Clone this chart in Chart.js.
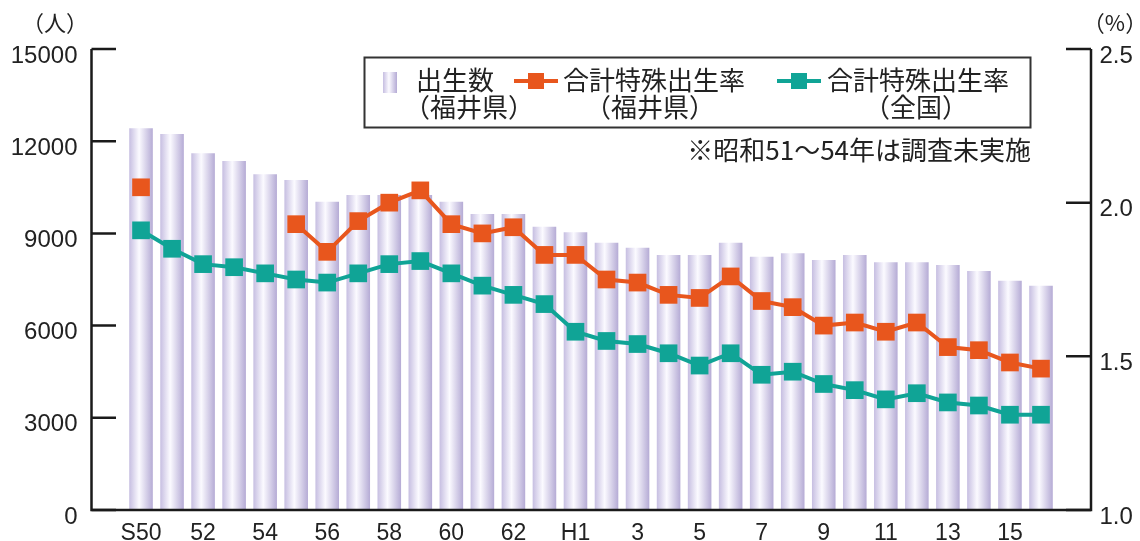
<!DOCTYPE html>
<html><head><meta charset="utf-8">
<script src="https://cdn.jsdelivr.net/npm/chart.js@4"></script>
<style>html,body{margin:0;padding:0;background:#fff;}</style>
</head><body>
<canvas id="c" width="1140" height="541" style="display:block;width:1140px;height:541px"></canvas>
<script>
const categories = ['S50','S51','S52','S53','S54','S55','S56','S57','S58','S59','S60','S61','S62','S63',
  'H1','H2','H3','H4','H5','H6','H7','H8','H9','H10','H11','H12','H13','H14','H15','H16'];
const tickLabels = ['S50','','52','','54','','56','','58','','60','','62','','H1','','3','','5','','7','','9','','11','','13','','15',''];
const births = [12420,12235,11607,11357,10923,10738,10032,10250,10250,10250,10030,9630,9630,9220,9035,
  8698,8536,8298,8298,8698,8243,8352,8135,8298,8059,8059,7972,7777,7462,7299];
const fukuiTFR = [2.05,null,null,null,null,1.93,1.84,1.94,2.00,2.04,1.93,1.90,1.92,1.83,1.83,
  1.75,1.74,1.70,1.69,1.76,1.68,1.66,1.60,1.61,1.58,1.61,1.53,1.52,1.48,1.46];
const nationalTFR = [1.91,1.85,1.80,1.79,1.77,1.75,1.74,1.77,1.80,1.81,1.77,1.73,1.70,1.67,1.58,
  1.55,1.54,1.51,1.47,1.51,1.44,1.45,1.41,1.39,1.36,1.38,1.35,1.34,1.31,1.31];
const leftTicks = [0,3000,6000,9000,12000,15000];
const rightTicks = [1.0,1.5,2.0,2.5];

const ORANGE = '#e8561d', TEAL = '#10a496';
const BAR_PCT = 0.76;
const NUM_FONT = '"Liberation Sans", Arial, sans-serif';
const JP_FONT = '"Noto Sans CJK JP", "Noto Sans CJK SC", sans-serif';

function barGradient(c2d, x0, x1) {
  const g = c2d.createLinearGradient(x0, 0, x1, 0);
  g.addColorStop(0, '#c6bee1');
  g.addColorStop(0.42, '#fbfaff');
  g.addColorStop(1, '#b5abd5');
  return g;
}

const noPad = (w, h) => (s) => {
  if (w !== null) s.width = w;
  if (h !== null) s.height = h;
  s.paddingTop = 0; s.paddingBottom = 0; s.paddingLeft = 0; s.paddingRight = 0;
};

const decor = {
  id: 'decor',
  afterDraw(chart) {
    const ctx = chart.ctx;
    const yl = chart.scales.yL, yr = chart.scales.yR;
    const axL = 91.5, axR = 1091, bottom = yl.getPixelForValue(0), top = yl.getPixelForValue(15000);
    ctx.save();
    ctx.strokeStyle = '#1a1a1a';
    ctx.lineWidth = 2.5;
    ctx.beginPath();
    ctx.moveTo(axL, top); ctx.lineTo(axL, bottom); ctx.lineTo(axR, bottom); ctx.lineTo(axR, yr.getPixelForValue(2.5));
    ctx.stroke();
    ctx.beginPath();
    leftTicks.forEach(v => { const y = yl.getPixelForValue(v); ctx.moveTo(axL, y); ctx.lineTo(116, y); });
    rightTicks.forEach(v => { const y = yr.getPixelForValue(v); ctx.moveTo(axR, y); ctx.lineTo(1066, y); });
    ctx.stroke();

    ctx.fillStyle = '#222';
    ctx.textBaseline = 'middle';
    ctx.font = '22px ' + JP_FONT;
    ctx.textAlign = 'center';
    ctx.fillText('（人）', 55, 23);
    ctx.fillText('（%）', 1115, 23);

    // legend box
    ctx.lineWidth = 2;
    ctx.strokeStyle = '#333';
    ctx.strokeRect(364.5, 57.5, 666, 70);
    ctx.fillStyle = barGradient(ctx, 383, 397);
    ctx.fillRect(383, 72, 14, 21);
    ctx.fillStyle = '#222';
    ctx.font = '26px ' + JP_FONT;
    ctx.textAlign = 'left';
    ctx.fillText('出生数', 416, 80);
    ctx.fillText('（福井県）', 404, 107);
    const drawIcon = (x0, x1, color) => {
      ctx.strokeStyle = color; ctx.lineWidth = 4;
      ctx.beginPath(); ctx.moveTo(x0, 81); ctx.lineTo(x1, 81); ctx.stroke();
      ctx.fillStyle = color; const cx = (x0 + x1) / 2;
      ctx.fillRect(cx - 8, 73, 16, 16);
    };
    drawIcon(514, 558, ORANGE);
    ctx.fillStyle = '#222';
    ctx.fillText('合計特殊出生率', 563, 80);
    ctx.textAlign = 'center';
    ctx.fillText('（福井県）', 650, 107);
    drawIcon(777, 821, TEAL);
    ctx.fillStyle = '#222';
    ctx.textAlign = 'left';
    ctx.fillText('合計特殊出生率', 827, 80);
    ctx.textAlign = 'center';
    ctx.fillText('（全国）', 916, 107);
    ctx.textAlign = 'right';
    ctx.fillText('※昭和51～54年は調査未実施', 1031, 150);
    ctx.restore();
  }
};

new Chart(document.getElementById('c'), {
  data: {
    labels: categories,
    datasets: [
      {
        type: 'line', label: '合計特殊出生率（全国）', data: nationalTFR, yAxisID: 'yR', order: 1,
        borderColor: TEAL, backgroundColor: TEAL, borderWidth: 4, pointStyle: 'rect',
        pointRadius: 12.5, pointBorderWidth: 0, pointBackgroundColor: TEAL, tension: 0, spanGaps: false
      },
      {
        type: 'line', label: '合計特殊出生率（福井県）', data: fukuiTFR, yAxisID: 'yR', order: 0,
        borderColor: ORANGE, backgroundColor: ORANGE, borderWidth: 4, pointStyle: 'rect',
        pointRadius: 12.5, pointBorderWidth: 0, pointBackgroundColor: ORANGE, tension: 0, spanGaps: false
      },
      {
        type: 'bar', label: '出生数（福井県）', data: births, yAxisID: 'yL', order: 5,
        barPercentage: BAR_PCT, categoryPercentage: 1, borderWidth: 0,
        backgroundColor: (c) => {
          const chart = c.chart, xs = chart.scales.x;
          if (!xs || c.dataIndex === undefined || !chart.chartArea) return '#d6d0ea';
          const cx = xs.getPixelForValue(c.dataIndex);
          const w = xs.width / categories.length * BAR_PCT;
          return barGradient(chart.ctx, cx - w / 2, cx + w / 2);
        }
      }
    ]
  },
  options: {
    responsive: false, animation: false, devicePixelRatio: 1,
    layout: { padding: { top: 49, left: 0, right: 0, bottom: 0 } },
    plugins: { legend: { display: false }, tooltip: { enabled: false } },
    scales: {
      x: {
        type: 'category', offset: true,
        grid: { display: false, drawTicks: false }, border: { display: false },
        ticks: { autoSkip: false, maxRotation: 0, padding: 10, color: '#222',
          font: { family: NUM_FONT, size: 23 }, callback: (v, i) => tickLabels[i] },
        afterFit: noPad(null, 31)
      },
      yL: {
        type: 'linear', position: 'left', min: 0, max: 15000,
        afterBuildTicks: (s) => { s.ticks = leftTicks.map(v => ({ value: v })); },
        grid: { display: false, drawTicks: false }, border: { display: false },
        ticks: { padding: 48, color: '#222', labelOffset: 7, font: { family: NUM_FONT, size: 24 },
          callback: (v) => String(v) },
        afterFit: noPad(125.5, null)
      },
      yR: {
        type: 'linear', position: 'right', min: 1.0, max: 2.5,
        afterBuildTicks: (s) => { s.ticks = rightTicks.map(v => ({ value: v })); },
        grid: { display: false, drawTicks: false }, border: { display: false },
        ticks: { padding: 43, color: '#222', labelOffset: 7, font: { family: NUM_FONT, size: 24 },
          callback: (v) => Number(v).toFixed(1) },
        afterFit: noPad(83.5, null)
      }
    }
  },
  plugins: [decor]
});
</script>
</body></html>
